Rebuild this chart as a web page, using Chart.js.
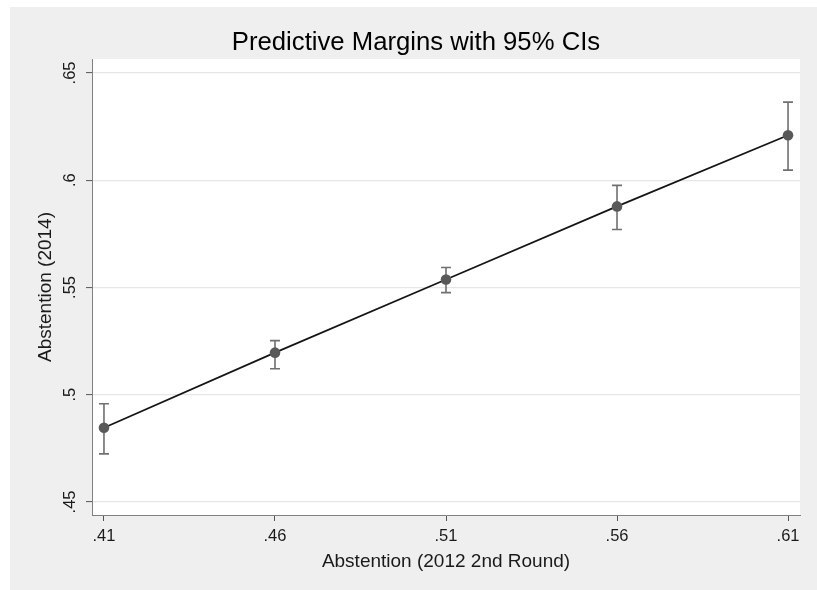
<!DOCTYPE html>
<html><head><meta charset="utf-8">
<script src="https://cdn.jsdelivr.net/npm/chart.js@4/dist/chart.umd.min.js"></script>
<style>html,body{margin:0;padding:0;background:#fff;overflow:hidden;}</style>
</head><body>
<canvas id="c" width="817" height="590" style="display:block;width:817px;height:590px"></canvas>
<script>
// Data
const xValues = [0.41, 0.46, 0.51, 0.56, 0.61];
const margins = [0.4846, 0.5196, 0.5537, 0.5878, 0.6210];
const ciLower = [0.4724, 0.5121, 0.5476, 0.5770, 0.6047];
const ciUpper = [0.4958, 0.5252, 0.5593, 0.5976, 0.6364];
const xTicks = [0.41, 0.46, 0.51, 0.56, 0.61];
const yTicks = [0.45, 0.50, 0.55, 0.60, 0.65];
const titleText = 'Predictive Margins with 95% CIs';
const xTitle = 'Abstention (2012 2nd Round)';
const yTitle = 'Abstention (2014)';

const FONT = "'Liberation Sans', Arial, Helvetica, sans-serif";
const fmt = v => Number(v).toFixed(2).replace(/0+$/, '').replace(/^0/, '');

const bgPlugin = {
  id: 'bg',
  beforeDraw(chart) {
    const {ctx, chartArea: a} = chart;
    ctx.save();
    ctx.fillStyle = '#ffffff';
    ctx.fillRect(0, 0, chart.width, chart.height);
    ctx.fillStyle = '#efefef';
    ctx.fillRect(10, 7, chart.width - 10, chart.height - 7);
    ctx.fillStyle = '#ffffff';
    ctx.fillRect(a.left, a.top, a.right - a.left, a.bottom - a.top);
    ctx.restore();
  }
};

const errPlugin = {
  id: 'errbars',
  beforeDatasetsDraw(chart) {
    const {ctx, scales: {x, y}} = chart;
    ctx.save();
    ctx.strokeStyle = '#707070';
    ctx.lineWidth = 1.6;
    xValues.forEach((xv, i) => {
      const px = x.getPixelForValue(xv);
      const pl = y.getPixelForValue(ciLower[i]);
      const pu = y.getPixelForValue(ciUpper[i]);
      ctx.beginPath();
      ctx.moveTo(px, pl); ctx.lineTo(px, pu);
      ctx.moveTo(px - 5, pl); ctx.lineTo(px + 5, pl);
      ctx.moveTo(px - 5, pu); ctx.lineTo(px + 5, pu);
      ctx.stroke();
    });
    ctx.restore();
  }
};

new Chart(document.getElementById('c'), {
  type: 'scatter',
  data: {
    datasets: [{
      data: xValues.map((v, i) => ({x: v, y: margins[i]})),
      showLine: true,
      borderColor: '#151515',
      borderWidth: 1.7,
      pointRadius: 5.3,
      pointBackgroundColor: '#595959',
      pointBorderColor: '#595959',
      pointBorderWidth: 0,
      tension: 0
    }]
  },
  options: {
    responsive: false,
    animation: false,
    devicePixelRatio: 1,
    layout: {padding: {left: 32, right: 17, top: 0, bottom: 0}},
    plugins: {
      legend: {display: false},
      tooltip: {enabled: false},
      title: {
        display: true,
        text: titleText,
        color: '#000',
        font: {family: FONT, size: 25.7, weight: 'normal', lineHeight: 1.2},
        padding: {top: 27.5, bottom: 0.7}
      }
    },
    scales: {
      x: {
        type: 'linear',
        min: 0.4065, max: 0.6135,
        afterBuildTicks: s => { s.ticks = xTicks.map(v => ({value: v})); },
        afterFit: s => { s.height = 75; },
        ticks: {
          callback: v => fmt(v),
          color: '#1a1a1a',
          font: {family: FONT, size: 16.5},
          padding: 6,
          maxRotation: 0, minRotation: 0
        },
        grid: {drawOnChartArea: false, drawTicks: true, tickLength: 6, tickColor: '#555', tickWidth: 1},
        border: {display: true, color: '#808080', width: 1},
        title: {
          display: true, text: xTitle, color: '#1a1a1a',
          font: {family: FONT, size: 19, lineHeight: 1.2},
          padding: {top: 0, bottom: 17}
        }
      },
      y: {
        type: 'linear',
        min: 0.4439, max: 0.6565,
        afterBuildTicks: s => { s.ticks = yTicks.map(v => ({value: v})); },
        afterFit: s => { s.width = 60; },
        ticks: {
          callback: v => fmt(v),
          color: '#1a1a1a',
          font: {family: FONT, size: 16.5},
          padding: 4.5,
          minRotation: 90, maxRotation: 90,
          crossAlign: 'center'
        },
        grid: {drawOnChartArea: true, color: '#e6e6e6', lineWidth: 1.2, drawTicks: true, tickLength: 6, tickColor: '#555', tickWidth: 1},
        border: {display: true, color: '#808080', width: 1},
        title: {
          display: true, text: yTitle, color: '#1a1a1a',
          font: {family: FONT, size: 19, lineHeight: 1.2},
          padding: {top: 2.6, bottom: 0}
        }
      }
    }
  },
  plugins: [bgPlugin, errPlugin]
});
</script>
</body></html>
